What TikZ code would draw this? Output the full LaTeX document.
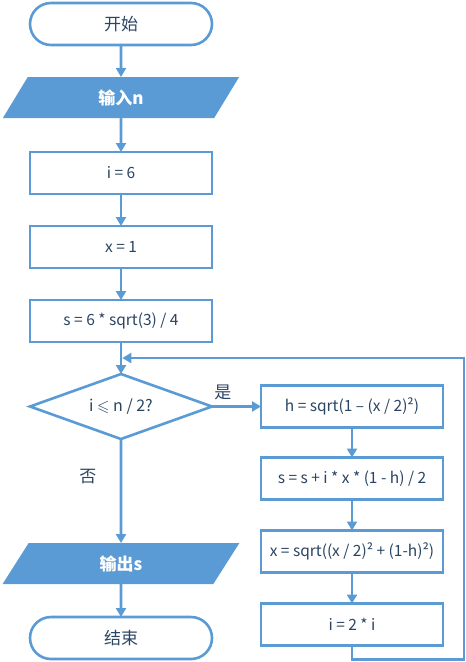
\documentclass[tikz,border=0pt]{standalone}
\usepackage{fontspec}
\setmainfont{Noto Sans CJK SC}
\usepackage{amssymb}
\usepackage{xcolor}
\definecolor{fcblue}{HTML}{5B9BD5}
\definecolor{fcink}{HTML}{2A4563}
\usepackage{tikz}
\usetikzlibrary{arrows.meta,positioning,shapes.geometric}

\begin{document}
\begin{tikzpicture}[
  x=1pt, y=1pt,
  proc/.style={draw=fcblue, line width=2.6pt, fill=white, text=fcink,
               minimum width=182pt, minimum height=42pt, outer sep=0pt,
               inner sep=1pt, align=center, font=\fontsize{15.5}{17}\selectfont},
  term/.style={proc, rounded corners=21pt, font=\fontsize{17}{19}\selectfont},
  inout/.style={trapezium, trapezium left angle=72, trapezium right angle=108,
                trapezium stretches=true, fill=fcblue, draw=none, text=white,
                minimum width=237pt, minimum height=41pt, inner sep=2pt,
                outer sep=0pt, font=\fontsize{17}{19}\selectfont\bfseries},
  cond/.style={diamond, aspect=2.8, draw=fcblue, line width=2.6pt, fill=white,
               text=fcink, minimum width=182pt, minimum height=65pt,
               inner sep=0pt, outer sep=0pt, font=\fontsize{16}{18}\selectfont},
  arr/.style={-{Triangle[length=9pt,width=10pt]}, line width=2.6pt, draw=fcblue},
  lbl/.style={text=fcink, font=\fontsize{17}{19}\selectfont},
  node distance=32pt and 49pt
]
  \useasboundingbox (0,0) rectangle (466,-662);

  % main column
  \node[term] (start) at (121,-24) {开始};
  \node[inout, below=32pt of start] (input) {输入n};
  \node[proc, below=34pt of input] (seti) {i = 6};
  \node[proc, below=of seti] (setx) {x = 1};
  \node[proc, below=of setx] (sets) {s = 6 * sqrt(3) / 4};
  \node[cond, below=of sets] (test) {i $\leqslant$ n / 2?};
  \node[inout, below=104pt of test] (output) {输出s};
  \node[term, below=33pt of output] (stop) {结束};
  \coordinate[below=16pt of sets] (merge);

  % loop body
  \node[proc, right=of test] (calch) {h = sqrt(1 – (x / 2)²)};
  \node[proc, below=30pt of calch] (calcs) {s = s + i * x * (1 - h) / 2};
  \node[proc, below=31pt of calcs] (calcx) {x = sqrt((x / 2)² + (1-h)²)};
  \node[proc, below=31pt of calcx] (calci) {i = 2 * i};

  \draw[arr] (start) -- (input);
  \draw[arr] (input) -- (seti);
  \draw[arr] (seti) -- (setx);
  \draw[arr] (setx) -- (sets);
  \draw[arr] (sets) -- (test);
  \draw[arr] (test) -- node[lbl, above=2pt, pos=0.22] {是} (calch);
  \draw[arr] (test) -- node[lbl, left=20pt, pos=0.36] {否} (output);
  \draw[arr] (output) -- (stop);
  \draw[arr] (calch) -- (calcs);
  \draw[arr] (calcs) -- (calcx);
  \draw[arr] (calcx) -- (calci);
  \draw[arr] (calci.south) -- ++(0,-14) -| ([xshift=21pt]calci.east |- merge)
    -- ([xshift=1.3pt]merge);
\end{tikzpicture}
\end{document}
